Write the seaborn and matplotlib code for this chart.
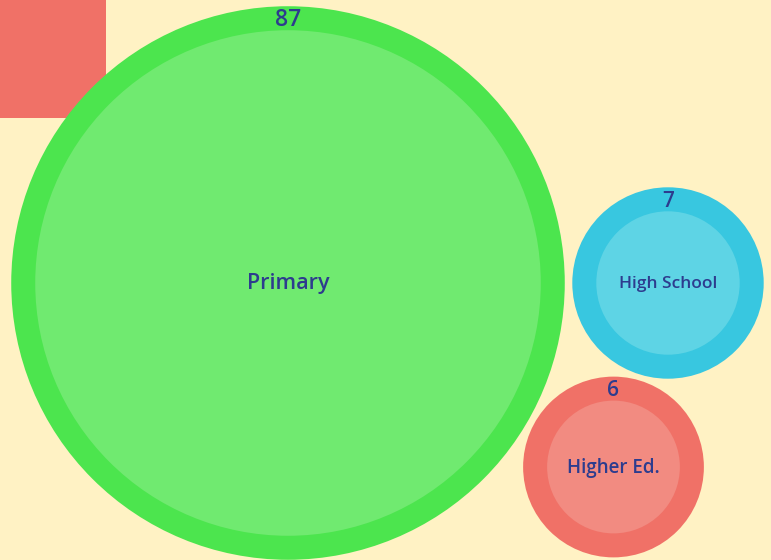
import numpy as np
import pandas as pd
import matplotlib
matplotlib.use('Agg')
import matplotlib.pyplot as plt
from matplotlib.patches import Circle, Rectangle
import seaborn as sns

# data
categories = ['Primary', 'High School', 'Higher Ed.']
values = [87, 7, 6]

# colours (outer ring / inner fill)
ring_colors = ['#4ce54e', '#38c7e0', '#f07167']
fill_colors = ['#70ea70', '#5ed4e5', '#f28b81']
text_color = '#2d3c8e'
bg_color = '#fff2c4'

sns.set_theme(style='white', rc={'figure.facecolor': bg_color, 'axes.facecolor': bg_color})
plt.rcParams['font.family'] = ['Open Sans', 'DejaVu Sans']

df = pd.DataFrame({'category': categories, 'value': values})
# inner radius scales with sqrt(value), ring is a fixed width
scale = 27.1
ring = 24
df['r_in'] = scale * np.sqrt(df['value'])
df['r_out'] = df['r_in'] + ring
# packed layout centres (pixels)
df['cx'] = [288, 668, 613.5]
df['cy'] = [283, 283, 467]
label_size = [15.5, 12.5, 13.5]
value_size = [16.5, 15, 15]

fig = plt.figure(figsize=(7.71, 5.60), dpi=100)
ax = fig.add_axes([0, 0, 1, 1])
ax.set_xlim(0, 771)
ax.set_ylim(560, 0)
ax.set_axis_off()

ax.add_patch(Rectangle((0, 0), 106, 118, color=ring_colors[2], lw=0, zorder=1))

for i, row in df.iterrows():
    ax.add_patch(Circle((row.cx, row.cy), row.r_out, color=ring_colors[i], lw=0, zorder=2))
    ax.add_patch(Circle((row.cx, row.cy), row.r_in, color=fill_colors[i], lw=0, zorder=3))
    ax.text(row.cx, row.cy + 1, row.category, ha='center', va='center',
            color=text_color, fontsize=label_size[i], fontweight='semibold', zorder=4)
    ax.text(row.cx, row.cy - row.r_out + ring / 2 + 2, str(row.value), ha='center', va='center',
            color=text_color, fontsize=value_size[i], fontweight='semibold', zorder=4)

fig.savefig('out.png', dpi=100, facecolor=bg_color)
